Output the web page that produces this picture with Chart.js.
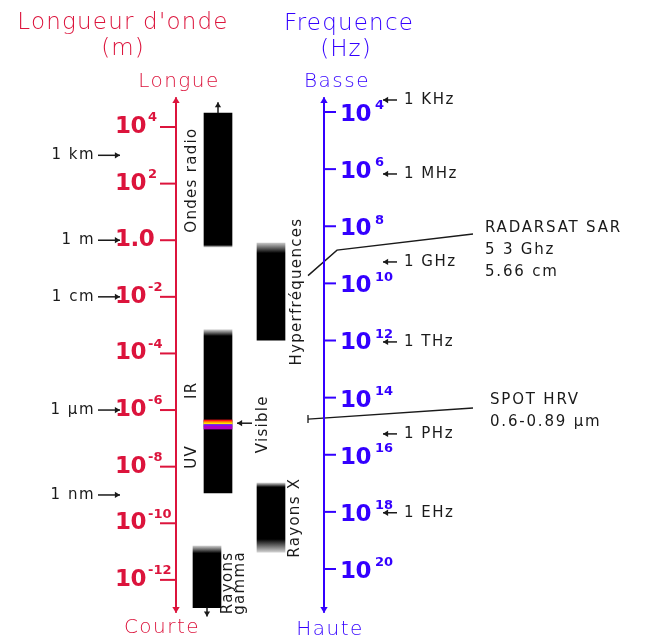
<!DOCTYPE html>
<html>
<head>
<meta charset="utf-8">
<title>Spectre électromagnétique</title>
<script src="https://cdn.jsdelivr.net/npm/chart.js@4.4.0/dist/chart.umd.min.js"></script>
<style>
    body { margin: 0; background: #ffffff; }
    #wrap { width: 648px; height: 639px; position: relative; }
</style>
</head>
<body>
<div id="wrap"><canvas id="spectre"></canvas></div>
<script>
// Bandes du spectre : exposant de la longueur d'onde (m), haut et bas
var bandNames = ["Ondes radio", "Hyperfréquences", "IR / UV", "Rayons X", "Rayons gamma"];
var bandHigh = [4.49, -0.10, -3.17, -8.58, -10.81];
var bandLow = [-0.24, -3.53, -8.93, -11.02, -12.98];

// Bande du visible (rouge -> violet)
var visibleHigh = [-6.35, -6.41, -6.46, -6.51, -6.57];
var visibleLow = [-6.41, -6.46, -6.51, -6.57, -6.67];
var visibleColors = ["#ff1414", "#ff9a00", "#ffe400", "#7414ff", "#b000c4"];

// Graduations (exposants de 10)
var wlTicks = [4, 2, 0, -2, -4, -6, -8, -10, -12];
var fqTicks = [4, 6, 8, 10, 12, 14, 16, 18, 20];

// Repères à gauche (longueur d'onde) et à droite (fréquence)
var wlNoteLabels = ["1 km", "1 m", "1 cm", "1 µm", "1 nm"];
var wlNoteValues = [3, 0, -2, -6, -9];
var fqNoteLabels = ["1 KHz", "1 MHz", "1 GHz", "1 THz", "1 PHz", "1 EHz"];
var fqNoteValues = [3.58, 6.17, 9.25, 12.05, 15.27, 18.03];

// Parties de la bande IR / UV
var partLabels = ["IR", "UV"];
var partValues = [-5.3, -7.65];
var visibleLabelValue = -6.5;

// Capteurs
var radarsatLabels = ["RADARSAT SAR", "5 3 Ghz", "5.66 cm"];
var radarsatValues = [-1.25, -0.35, 0.22];
var spotLabels = ["SPOT HRV", "0.6-0.89 µm"];
var spotValues = [-6.32, -5.93];

// Mise en page (pixels)
var RED = "#dc143c";
var BLUE = "#3300ff";
var INK = "#1a1a1a";
var axeG = 176, axeD = 324;
var colX = [218, 271, 218, 271, 207];
var fade = [[0, 2], [10, 0], [6, 0], [4, 13], [7, 0]];
var radarsatX = [308, 337, 473];
var spotX = [308, 473];

function texte(ctx, s, x, y, font, color, align, spacing) {
    ctx.font = font;
    ctx.fillStyle = color;
    ctx.textAlign = align || "left";
    ctx.textBaseline = "middle";
    ctx.letterSpacing = (spacing || 0) + "px";
    ctx.fillText(s, x, y);
    ctx.letterSpacing = "0px";
}

function texteV(ctx, s, x, y, font, color, spacing) {
    ctx.save();
    ctx.translate(x, y);
    ctx.rotate(-Math.PI / 2);
    texte(ctx, s, 0, 0, font, color, "center", spacing);
    ctx.restore();
}

function fleche(ctx, x1, y1, x2, y2, color, size) {
    var a = Math.atan2(y2 - y1, x2 - x1);
    size = size || 5;
    ctx.strokeStyle = color;
    ctx.fillStyle = color;
    ctx.lineWidth = 1.5;
    ctx.beginPath();
    ctx.moveTo(x1, y1);
    ctx.lineTo(x2, y2);
    ctx.stroke();
    ctx.beginPath();
    ctx.moveTo(x2, y2);
    ctx.lineTo(x2 - size * Math.cos(a - 0.55), y2 - size * Math.sin(a - 0.55));
    ctx.lineTo(x2 - size * Math.cos(a + 0.55), y2 - size * Math.sin(a + 0.55));
    ctx.closePath();
    ctx.fill();
}

function puissance(ctx, x, y, exp, color, gap) {
    if (exp === 0) {
        texte(ctx, "1.0", x, y, "bold 23px 'DejaVu Sans'", color, "left", -0.5);
        return;
    }
    texte(ctx, "10", x, y, "bold 23px 'DejaVu Sans'", color, "left", -0.5);
    ctx.font = "bold 23px 'DejaVu Sans'";
    var w = ctx.measureText("10").width;
    texte(ctx, String(exp), x + w + gap, y - 9, "bold 13px 'DejaVu Sans'", color, "left", 0);
}

function bandFill(c) {
    var chart = c.chart;
    var i = c.dataIndex;
    if (!chart.chartArea) return "#000";
    var y = chart.scales.y;
    var top = y.getPixelForValue(bandHigh[i]);
    var bot = y.getPixelForValue(bandLow[i]);
    var h = bot - top;
    var g = chart.ctx.createLinearGradient(0, top, 0, bot);
    if (fade[i][0]) {
        g.addColorStop(0, "#c4c4c4");
        g.addColorStop(fade[i][0] / h, "#000");
    } else {
        g.addColorStop(0, "#000");
    }
    if (fade[i][1]) {
        g.addColorStop(1 - fade[i][1] / h, "#000");
        g.addColorStop(1, "#cfcfcf");
    } else {
        g.addColorStop(1, "#000");
    }
    return g;
}

var decor = {
    id: "decor",
    afterDatasetsDraw: function (chart) {
        var ctx = chart.ctx;
        var y = chart.scales.y;
        var f = chart.scales.freq;
        var area = chart.chartArea;
        var regular = "15px 'DejaVu Sans'";
        var titre = "300 23px 'DejaVu Sans'";
        var sous = "300 20px 'DejaVu Sans'";
        ctx.save();

        // Titres
        texte(ctx, "Longueur d'onde", 123, 23, titre, RED, "center", 1.2);
        texte(ctx, "(m)", 123, 49, titre, RED, "center", 1);
        texte(ctx, "Frequence", 349, 24, titre, BLUE, "center", 1.2);
        texte(ctx, "(Hz)", 346, 50, titre, BLUE, "center", 1);
        texte(ctx, "Longue", axeG + 3, 82, sous, RED, "center", 1.5);
        texte(ctx, "Courte", axeG - 14, 628, sous, RED, "center", 1.5);
        texte(ctx, "Basse", axeD + 13, 82, sous, BLUE, "center", 1.5);
        texte(ctx, "Haute", axeD + 6, 630, sous, BLUE, "center", 1.5);

        // Axes avec flèches
        [[axeG, RED], [axeD, BLUE]].forEach(function (a) {
            ctx.strokeStyle = a[1];
            ctx.lineWidth = 2;
            ctx.beginPath();
            ctx.moveTo(a[0], area.top + 4);
            ctx.lineTo(a[0], area.bottom - 4);
            ctx.stroke();
            fleche(ctx, a[0], area.top + 8, a[0], area.top, a[1], 7);
            fleche(ctx, a[0], area.bottom - 8, a[0], area.bottom, a[1], 7);
        });

        // Graduations longueur d'onde
        wlTicks.forEach(function (v) {
            var py = y.getPixelForValue(v);
            ctx.strokeStyle = RED;
            ctx.lineWidth = 2;
            ctx.beginPath();
            ctx.moveTo(axeG - 16, py);
            ctx.lineTo(axeG, py);
            ctx.stroke();
            puissance(ctx, 115, py, v, RED, 1);
        });

        // Graduations fréquence
        fqTicks.forEach(function (v) {
            var py = f.getPixelForValue(v);
            ctx.strokeStyle = BLUE;
            ctx.lineWidth = 2;
            ctx.beginPath();
            ctx.moveTo(axeD, py);
            ctx.lineTo(axeD + 12, py);
            ctx.stroke();
            puissance(ctx, 340, py + 3, v, BLUE, 3);
        });

        // Repères
        wlNoteLabels.forEach(function (s, i) {
            var py = y.getPixelForValue(wlNoteValues[i]);
            texte(ctx, s, 95, py, regular, INK, "right", 1.5);
            fleche(ctx, 98, py, 120, py, INK, 6);
        });
        fqNoteLabels.forEach(function (s, i) {
            var py = f.getPixelForValue(fqNoteValues[i]);
            fleche(ctx, 397, py, 383, py, INK, 6);
            texte(ctx, s, 404, py, regular, INK, "left", 1.5);
        });

        // Noms des bandes
        var mid = function (i) { return y.getPixelForValue((bandHigh[i] + bandLow[i]) / 2); };
        texteV(ctx, bandNames[0], colX[0] - 26, mid(0), regular, INK, 1.3);
        texteV(ctx, bandNames[1], colX[1] + 26, mid(1), regular, INK, 1.3);
        texteV(ctx, bandNames[3], colX[3] + 24, mid(3), regular, INK, 1.3);
        texteV(ctx, "Rayons", colX[4] + 21, mid(4) + 6, regular, INK, 1.3);
        texteV(ctx, "gamma", colX[4] + 33, mid(4) + 6, regular, INK, 1.3);
        partLabels.forEach(function (s, i) {
            texteV(ctx, s, colX[2] - 26, y.getPixelForValue(partValues[i]), regular, INK, 1.3);
        });
        var pv = y.getPixelForValue(visibleLabelValue);
        texteV(ctx, "Visible", colX[2] + 45, pv, regular, INK, 1.3);
        fleche(ctx, colX[2] + 34, pv - 1, colX[2] + 19, pv - 1, INK, 6);

        // Flèches des bandes ouvertes
        var t0 = y.getPixelForValue(bandHigh[0]);
        fleche(ctx, colX[0], t0, colX[0], t0 - 11, INK, 6);
        var b4 = y.getPixelForValue(bandLow[4]);
        fleche(ctx, colX[4], b4, colX[4], b4 + 9, INK, 6);

        // Capteurs
        var ry = y.getPixelForValue(radarsatValues[radarsatValues.length - 1]);
        radarsatLabels.forEach(function (s, i) {
            texte(ctx, s, 485, ry - 6 + i * 22, regular, INK, "left", 1.8);
        });
        var sy = y.getPixelForValue(spotValues[spotValues.length - 1]);
        spotLabels.forEach(function (s, i) {
            texte(ctx, s, 490, sy - 8 + i * 22, regular, INK, "left", 1.8);
        });
        var s0 = y.getPixelForValue(spotValues[0]);
        ctx.strokeStyle = INK;
        ctx.lineWidth = 1.3;
        ctx.beginPath();
        ctx.moveTo(spotX[0], s0 - 4);
        ctx.lineTo(spotX[0], s0 + 4);
        ctx.stroke();

        ctx.restore();
    }
};

var ctx = document.getElementById("spectre").getContext("2d");

var myChart = new Chart(ctx, {
    type: "bar",
    data: {
        datasets: [
            {
                label: "Visible",
                data: visibleColors.map(function (c, i) {
                    return { x: colX[2], y: [visibleLow[i], visibleHigh[i]] };
                }),
                backgroundColor: visibleColors,
                barThickness: 28,
                grouped: false,
                order: 0
            },
            {
                label: "Bandes",
                data: bandNames.map(function (n, i) {
                    return { x: colX[i], y: [bandLow[i], bandHigh[i]] };
                }),
                backgroundColor: bandFill,
                barThickness: 28,
                grouped: false,
                order: 1
            },
            {
                type: "line",
                label: "RADARSAT",
                data: radarsatX.map(function (x, i) { return { x: x, y: radarsatValues[i] }; }),
                borderColor: INK,
                borderWidth: 1.4,
                pointRadius: 0,
                order: 0
            },
            {
                type: "line",
                label: "SPOT",
                data: spotX.map(function (x, i) { return { x: x, y: spotValues[i] }; }),
                borderColor: INK,
                borderWidth: 1.4,
                pointRadius: 0,
                order: 0
            }
        ]
    },
    options: {
        responsive: true,
        maintainAspectRatio: false,
        animation: false,
        events: [],
        layout: { padding: { top: 97, bottom: 26, left: 0, right: 0 } },
        plugins: {
            legend: { display: false },
            tooltip: { enabled: false }
        },
        scales: {
            x: { type: "linear", min: 0, max: 648, offset: false, display: false },
            y: { type: "linear", min: -13.17, max: 5.06, display: false },
            freq: { type: "linear", axis: "y", position: "right", reverse: true, min: 3.475, max: 21.54, display: false }
        }
    },
    plugins: [decor]
});
</script>
</body>
</html>
